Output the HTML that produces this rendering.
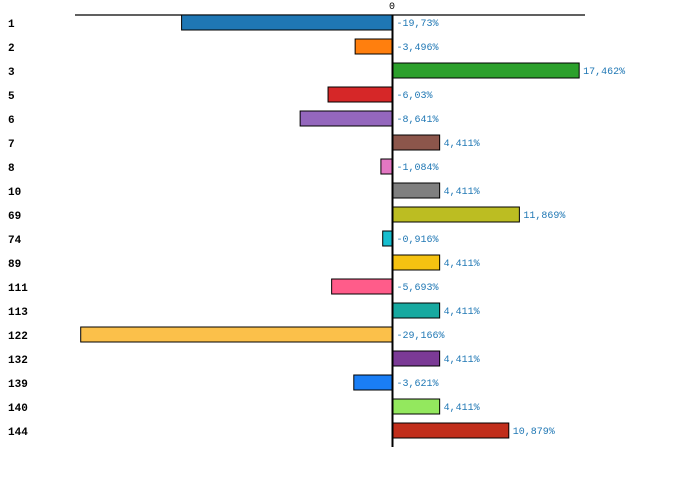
<!DOCTYPE html>
<html><head><meta charset="utf-8"><style>
html,body{margin:0;padding:0;background:#fff;}
svg{display:block;}
.cat{font:bold 11px "Liberation Mono",monospace;fill:#000;}
.val{font:10px "Liberation Mono",monospace;fill:#1f77b4;}
</style></head><body>
<svg id="chart" width="700" height="477">
<line x1="75" y1="15" x2="585" y2="15" stroke="#000" stroke-width="1.3"/>
<text x="392" y="9" text-anchor="middle" class="val" style="fill:#000">0</text>
<g id="bars"></g>
<line x1="392.5" y1="15" x2="392.5" y2="447" stroke="#000" stroke-width="2"/>
</svg>
<script>
const categories=["1","2","3","5","6","7","8","10","69","74","89","111","113","122","132","139","140","144"];
const values=[-19.73,-3.496,17.462,-6.03,-8.641,4.411,-1.084,4.411,11.869,-0.916,4.411,-5.693,4.411,-29.166,4.411,-3.621,4.411,10.879];
const valueLabels=["-19,73%","-3,496%","17,462%","-6,03%","-8,641%","4,411%","-1,084%","4,411%","11,869%","-0,916%","4,411%","-5,693%","4,411%","-29,166%","4,411%","-3,621%","4,411%","10,879%"];
const colors=["#1f77b4","#ff7f0e","#2ca02c","#d62728","#9467bd","#8c564b","#e377c2","#7f7f7f","#bcbd22","#17becf","#f5c211","#ff5c8a","#17a9a0","#fbc04a","#7b3a96","#1a7ef5","#93e85e","#c12e1b"];
const x0=392.5,scale=10.69,topY=15,step=24,bh=15;
const xs=v=>x0+v*scale;
const g=document.getElementById('bars');
const NS="http://www.w3.org/2000/svg";
categories.forEach((c,i)=>{
  const v=values[i],y=topY+i*step;
  const r=document.createElementNS(NS,'rect');
  
  
  const a=Math.min(xs(0),xs(v)),w=Math.abs(xs(v)-xs(0));
  r.setAttribute('x',a);r.setAttribute('y',y);r.setAttribute('width',w);r.setAttribute('height',bh);
  r.setAttribute('fill',colors[i]);r.setAttribute('stroke','#000');r.setAttribute('stroke-width','1');
  g.appendChild(r);
  const t=document.createElementNS(NS,'text');
  
  
  t.setAttribute('x',8);t.setAttribute('y',y+12);t.setAttribute('class','cat');t.textContent=c;
  g.appendChild(t);
  const l=document.createElementNS(NS,'text');
  
  
  l.setAttribute('x',v>=0?xs(v)+4:xs(0)+4);l.setAttribute('y',y+11);l.setAttribute('class','val');l.textContent=valueLabels[i];
  g.appendChild(l);
});
</script>
</body></html>
